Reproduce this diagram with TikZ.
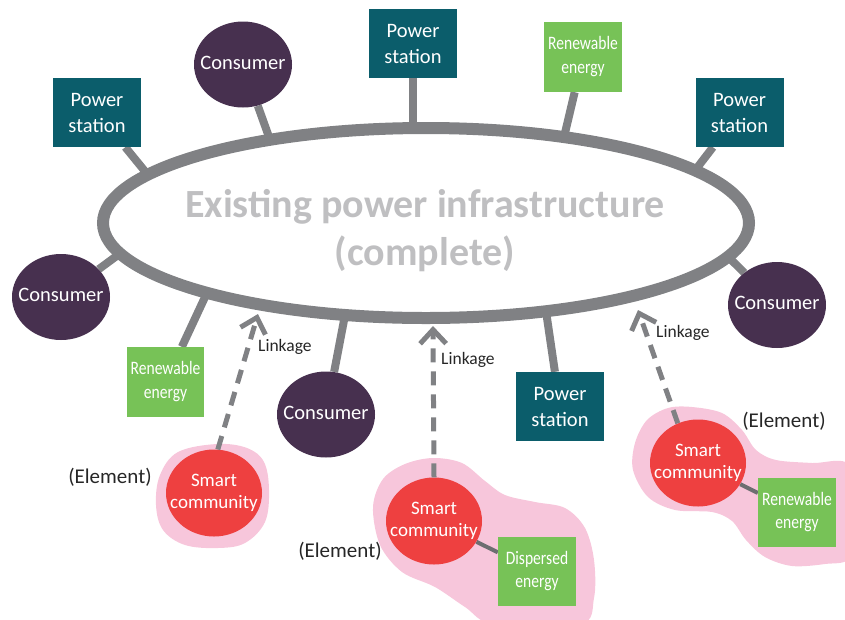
\documentclass[tikz,border=0pt]{standalone}
\usepackage{fontspec}
\usepackage{graphicx}
\setmainfont{Carlito}
\usetikzlibrary{shapes.geometric,arrows.meta,backgrounds}
\definecolor{psteal}{HTML}{0B5D6B}
\definecolor{conpurple}{HTML}{47304F}
\definecolor{regreen}{HTML}{77C257}
\definecolor{scred}{HTML}{EE4040}
\definecolor{blobpink}{HTML}{F7C6DB}
\definecolor{ringgray}{HTML}{808184}
\definecolor{linkgray}{HTML}{6D6E71}
\definecolor{titlegray}{HTML}{BFBFC1}
\definecolor{darktext}{HTML}{262626}
\newcommand\zerobox[1]{\makebox[0pt]{\begin{tabular}{@{}c@{}}#1\end{tabular}}}
\newcommand\narrowtext[1]{\scalebox{0.82}[1]{\begin{tabular}{@{}c@{}}#1\end{tabular}}}
\tikzset{
  psbox/.style={rectangle, fill=psteal, text=white, minimum width=88pt, minimum height=69pt, inner sep=0pt, align=center, font=\fontsize{20.5}{26}\selectfont},
  conell/.style={ellipse, fill=conpurple, text=white, minimum width=98pt, minimum height=86pt, inner sep=0pt, font=\fontsize{20.5}{24}\selectfont},
  rebox/.style={rectangle, fill=regreen, text=white, minimum width=78pt, minimum height=70pt, inner sep=0pt, font=\fontsize{19}{23.5}\selectfont},
  scell/.style={ellipse, fill=scred, text=white, minimum width=96pt, minimum height=87pt, inner sep=0pt, font=\fontsize{19}{22}\selectfont},
  conn/.style={draw=ringgray, line width=8pt},
  sclink/.style={draw=linkgray, line width=4pt},
  linkarrow/.style={draw=ringgray, line width=5pt, dash pattern=on 14pt off 9pt, -{Straight Barb[length=14pt,width=26pt]}},
  linklabel/.style={anchor=west, text=darktext, inner sep=0pt, font=\fontsize{17.5}{20}\selectfont},
  elemlabel/.style={text=darktext, inner sep=0pt, font=\fontsize{21}{24}\selectfont},
  blob/.style={fill=blobpink, draw=none}
}
\begin{document}
\begin{tikzpicture}[x=1pt,y=-1pt]
\useasboundingbox (0,0) rectangle (845,619);
% central ring
\node[ellipse, draw=ringgray, line width=12pt, minimum width=646pt, minimum height=190pt, inner sep=0pt, outer sep=0pt] (E) at (426,223) {};
\node[text=titlegray, align=center, inner sep=0pt, font=\bfseries\fontsize{40}{48}\selectfont] (T) at (425,231) {Existing power infrastructure\\(complete)};
% outer nodes
\node[psbox] (PSL) at (97,112.5) {Power\\station};
\node[conell] (CTL) at (243,64.5) {\zerobox{Consumer}};
\node[psbox] (PST) at (413,43.5) {Power\\station};
\node[rebox] (RT) at (583,57) {\narrowtext{Renewable\\energy}};
\node[psbox] (PSR) at (739.5,112.5) {Power\\station};
\node[conell] (CL) at (61,297) {\zerobox{Consumer}};
\node[conell] (CR) at (777,305) {\zerobox{Consumer}};
\node[rebox, minimum width=77pt] (RBL) at (165.5,382) {\narrowtext{Renewable\\energy}};
\node[conell] (CB) at (326,414.5) {\zerobox{Consumer}};
\node[psbox] (PSB) at (560,406.5) {Power\\station};
% smart communities
\node[scell] (SC1) at (214,493) {\zerobox{Smart\\community}};
\node[scell] (SC2) at (434,521) {\zerobox{Smart\\community}};
\node[rebox, minimum height=69pt] (DE) at (537,571.5) {\narrowtext{Dispersed\\energy}};
\node[scell] (SC3) at (698,463) {\zerobox{Smart\\community}};
\node[rebox, minimum height=69pt] (RR) at (797,512.5) {\narrowtext{Renewable\\energy}};
% ring attachment points
\coordinate (e1) at (148,175);
\coordinate (e2) at (270,139.8);
\coordinate (e3) at (413,128.1);
\coordinate (e4) at (564,137.2);
\coordinate (e5) at (695,170.5);
\coordinate (e6) at (120,253.5);
\coordinate (e7) at (728,256.7);
\coordinate (e8) at (207,292.8);
\coordinate (e9) at (345,315);
\coordinate (e10) at (546,311.2);
% arrow tips
\coordinate (t1) at (258,314);
\coordinate (t2) at (433,326);
\coordinate (t3) at (638,310);
\begin{pgfonlayer}{background}
\fill[blob] plot[smooth cycle, tension=0.6] coordinates {(217,444) (247,448) (264,462) (269,490) (265,522) (245,543) (218,548) (185,545) (163,530) (156,505) (160,475) (178,452)};
\fill[blob] plot[smooth cycle, tension=0.55] coordinates {(433,458) (462,463) (485,481) (505,495) (535,502) (565,508) (585,528) (594,560) (594,598) (580,625) (495,625) (465,607) (435,587) (402,572) (380,545) (373,507) (383,479) (405,464)};
\fill[blob] plot[smooth cycle, tension=0.55] coordinates {(692,407) (722,413) (742,430) (756,450) (776,460) (812,463) (850,465) (860,520) (850,558) (825,564) (792,566) (765,557) (746,540) (732,521) (712,512) (675,510) (648,497) (633,470) (635,443) (647,420) (668,408)};
\draw[conn] (PSL) -- (e1);
\draw[conn] (CTL) -- (e2);
\draw[conn] (PST) -- (e3);
\draw[conn] (RT) -- (e4);
\draw[conn] (PSR) -- (e5);
\draw[conn] (CL) -- (e6);
\draw[conn] (CR) -- (e7);
\draw[conn] (RBL) -- (e8);
\draw[conn] (CB) -- (e9);
\draw[conn] (PSB) -- (e10);
\draw[sclink] (SC2) -- (DE);
\draw[sclink] (SC3) -- (RR);
\end{pgfonlayer}
% linkage arrows
\draw[linkarrow] (SC1.85) -- (t1);
\draw[linkarrow] (SC2.north) -- (t2);
\draw[linkarrow] (SC3.117) -- (t3);
\node[linklabel] (L1) at (258,347) {Linkage};
\node[linklabel] (L2) at (441,360) {Linkage};
\node[linklabel] (L3) at (656,333) {Linkage};
\node[elemlabel] (EL1) at (110,477) {(Element)};
\node[elemlabel] (EL2) at (340,551) {(Element)};
\node[elemlabel] (EL3) at (784,421) {(Element)};
\end{tikzpicture}
\end{document}
